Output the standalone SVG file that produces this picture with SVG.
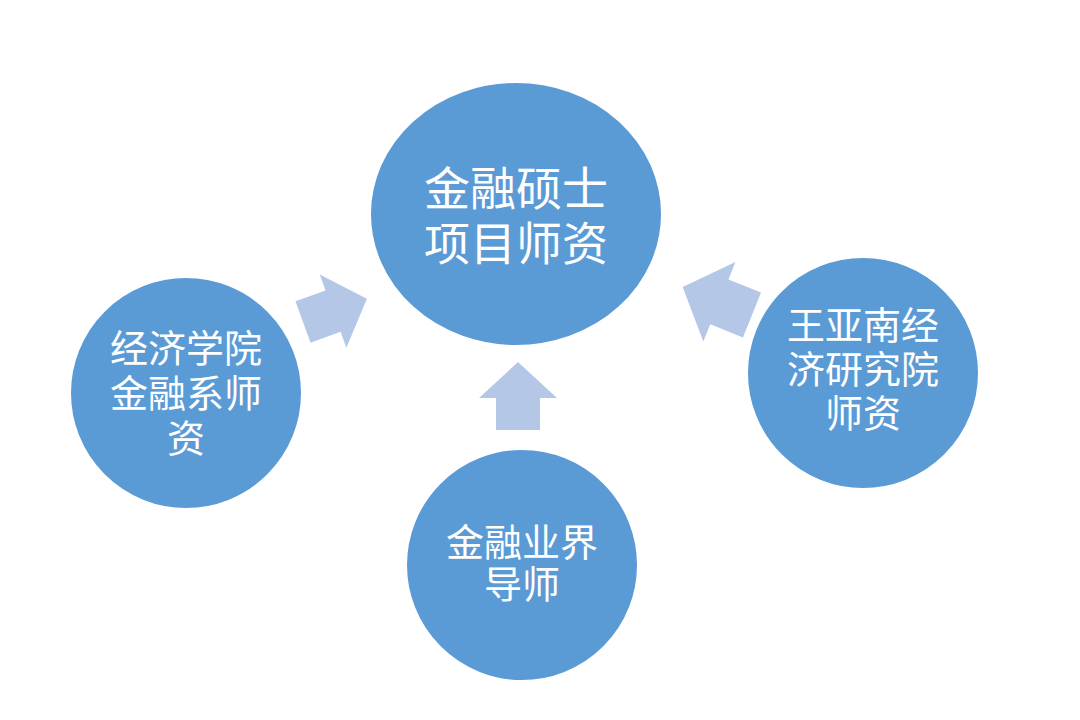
<svg xmlns="http://www.w3.org/2000/svg" width="1080" height="720" viewBox="0 0 1080 720">
<style>
.n{fill:#5b9bd5;stroke:#ffffff;stroke-width:2}
.t{fill:#fff;font-family:"Liberation Sans","Noto Sans CJK SC",sans-serif;text-anchor:middle}
.a{fill:#b4c7e7}
</style>
<defs><path id="arr" d="M0,-22 L32,-22 L32,-39 L68,0 L32,39 L32,22 L0,22 Z"/></defs>
<rect width="1080" height="720" fill="#fff"/>
<g id="connectors">
<use href="#arr" class="a" transform="translate(303,322) rotate(-20)"/>
<use href="#arr" class="a" transform="translate(518,430) rotate(-90)"/>
<use href="#arr" class="a" transform="translate(752,315) rotate(202) scale(1.1)"/>
</g>
<g id="center"><ellipse class="n" cx="516" cy="214" rx="146" ry="132"/>
<text class="t" font-size="46"><tspan x="516" y="205">金融硕士</tspan><tspan x="516" y="260">项目师资</tspan></text></g>
<g id="left"><circle class="n" cx="186" cy="393" r="116"/>
<text class="t" font-size="38"><tspan x="186" y="362">经济学院</tspan><tspan x="186" y="407">金融系师</tspan><tspan x="186" y="452">资</tspan></text></g>
<g id="bottom"><circle class="n" cx="522" cy="565" r="116"/>
<text class="t" font-size="38"><tspan x="522" y="556">金融业界</tspan><tspan x="522" y="598">导师</tspan></text></g>
<g id="right"><circle class="n" cx="863" cy="373" r="116"/>
<text class="t" font-size="38"><tspan x="863" y="339">王亚南经</tspan><tspan x="863" y="383">济研究院</tspan><tspan x="863" y="427">师资</tspan></text></g>
</svg>
